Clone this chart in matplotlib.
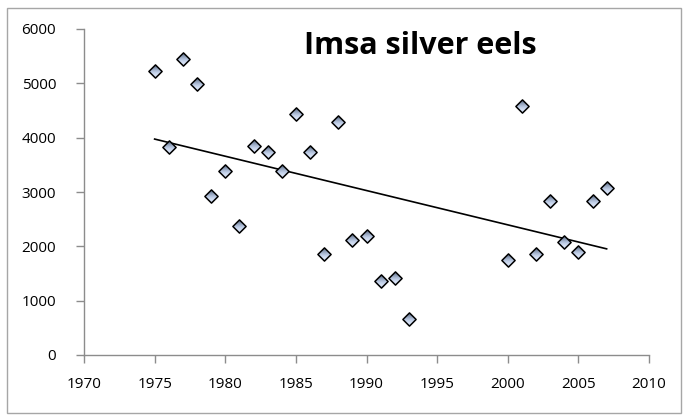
import numpy as np
import matplotlib
matplotlib.use("Agg")
import matplotlib.pyplot as plt
from matplotlib.patches import Rectangle
from matplotlib.path import Path

years = [1975, 1976, 1977, 1978, 1979, 1980, 1981, 1982, 1983, 1984, 1985, 1986,
         1987, 1988, 1989, 1990, 1991, 1992, 1993,
         2000, 2001, 2002, 2003, 2004, 2005, 2006, 2007]
eels = [5220, 3830, 5450, 4990, 2930, 3390, 2370, 3840, 3730, 3390, 4440, 3740,
        1850, 4280, 2115, 2190, 1355, 1410, 670,
        1740, 4590, 1850, 2840, 2085, 1900, 2840, 3075]
title = "Imsa silver eels"
xticks = [1970, 1975, 1980, 1985, 1990, 1995, 2000, 2005, 2010]
yticks = [0, 1000, 2000, 3000, 4000, 5000, 6000]

plt.rcParams['font.family'] = ['Open Sans', 'DejaVu Sans']

W, H = 683, 417
fig = plt.figure(figsize=(W / 100, H / 100), dpi=100)
ax = fig.add_axes([84 / W, (H - 355) / H, (649 - 84) / W, (355 - 29) / H])

x = np.array(years, dtype=float)
y = np.array(eels, dtype=float)
m, b = np.polyfit(x, y, 1)
xl = np.array([x.min(), x.max()])
ax.plot(xl, m * xl + b, color='black', lw=1.2, zorder=2)


def lower_diamond(cut):
    # part of the unit diamond below the level `cut`
    w = 1 - abs(cut)
    verts = [(-w, cut), (w, cut)]
    if cut > 0:
        verts += [(1, 0), (0, -1), (-1, 0)]
    else:
        verts += [(0, -1)]
    verts.append(verts[0])
    return Path(verts, closed=True)


diamond = Path([(0, 1), (1, 0), (0, -1), (-1, 0), (0, 1)], closed=True)
ms = 9.5
layers = [(diamond, '#6c7c96'), (lower_diamond(0.6), '#8e9db6'),
          (lower_diamond(0.3), '#aab9d2'), (lower_diamond(0.0), '#c2d0e8'),
          (lower_diamond(-0.3), '#d3def2')]
for z, (p, c) in enumerate(layers):
    ax.plot(x, y, linestyle='none', marker=p, markersize=ms,
            markerfacecolor=c, markeredgewidth=0, zorder=3 + z * 0.01)
ax.plot(x, y, linestyle='none', marker=diamond, markersize=ms,
        markerfacecolor='none', markeredgecolor='black', markeredgewidth=1.1, zorder=4)

ax.set_xlim(1970, 2010)
ax.set_ylim(0, 6000)
ax.set_xticks(xticks)
ax.set_yticks(yticks)
ax.tick_params(axis='both', direction='out', length=6, width=1, color='#8c8c8c',
               labelsize=11, labelcolor='black')
ax.tick_params(axis='x', pad=10)
ax.tick_params(axis='y', pad=14)
for s in ['top', 'right']:
    ax.spines[s].set_visible(False)
for s in ['left', 'bottom']:
    ax.spines[s].set_color('#8c8c8c')
    ax.spines[s].set_linewidth(1)

fig.text(420 / W, 1 - 46 / H, title, ha='center', va='center',
         fontsize=22, fontweight='bold')

fig.patches.append(Rectangle((7 / W, 4 / H), (681 - 7) / W, (409 - 4) / H,
                             transform=fig.transFigure, fill=False,
                             edgecolor='#a6a6a6', lw=1))

fig.savefig('out.png', dpi=100)
